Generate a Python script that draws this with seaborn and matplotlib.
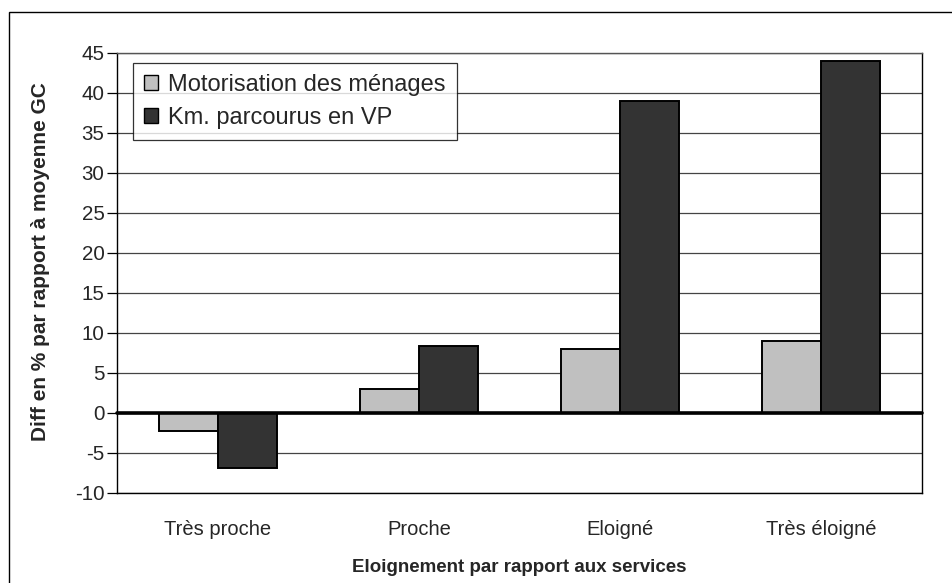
import matplotlib
matplotlib.use("Agg")
import matplotlib.pyplot as plt
import seaborn as sns
import pandas as pd
from matplotlib.patches import Rectangle

# Data
categories = ["Très proche", "Proche", "Eloigné", "Très éloigné"]
motorisation = [-2.3, 3.0, 8.0, 9.0]
km_parcourus = [-6.9, 8.3, 39.0, 44.0]
series_names = ["Motorisation des ménages", "Km. parcourus en VP"]
y_ticks = list(range(-10, 50, 5))

df = pd.DataFrame({
    "categorie": categories * 2,
    "serie": [series_names[0]] * 4 + [series_names[1]] * 4,
    "valeur": motorisation + km_parcourus,
})

sns.set_style("white")
plt.rcParams["font.family"] = ["Liberation Sans", "DejaVu Sans"]
plt.rcParams["axes.unicode_minus"] = False

W, H = 953, 583
x0, x1, y_top, y_bot = 117, 922, 53, 492.5

fig = plt.figure(figsize=(W / 100, H / 100), dpi=100)
ax = fig.add_axes([x0 / W, 1 - y_bot / H, (x1 - x0) / W, (y_bot - y_top) / H])

# Outer chart-area frame
fig.patches.append(Rectangle((9 / W, -0.1), 1.2, 1 - 12 / H + 0.1,
                             transform=fig.transFigure, fill=False,
                             edgecolor="black", linewidth=1.0, zorder=0))

sns.barplot(data=df, x="categorie", y="valeur", hue="serie",
            order=categories, hue_order=series_names,
            palette=["#c0c0c0", "#333333"], width=0.586,
            edgecolor="black", linewidth=1.4, saturation=1,
            ax=ax, zorder=3)

ax.set_ylim(-10, 45)
ax.set_yticks(y_ticks)
ax.set_xlim(-0.5, 3.5)
ax.yaxis.grid(True, color="#444444", linewidth=0.9, zorder=0)
ax.set_axisbelow(True)
ax.axhline(0, color="black", linewidth=2.6, zorder=4, clip_on=False)

for side in ["left", "right", "bottom", "top"]:
    ax.spines[side].set_visible(True)
    ax.spines[side].set_color("black")
    ax.spines[side].set_linewidth(1.0)
ax.spines["top"].set_color("#555555")

ax.tick_params(axis="y", which="both", left=True, length=7, width=0.9,
               direction="out", labelsize=14.8, pad=2, color="black")
ax.tick_params(axis="x", bottom=False, labelsize=14.5, pad=16)

ax.set_xlabel("Eloignement par rapport aux services", fontsize=13.5,
              fontweight="bold", labelpad=15)
ax.set_ylabel("Diff en % par rapport à moyenne GC", fontsize=15,
              fontweight="bold")
ax.yaxis.set_label_coords((50 - x0) / (x1 - x0), (y_bot - 262) / (y_bot - y_top))

leg = ax.legend(loc="upper left", bbox_to_anchor=(16 / (x1 - x0), (y_bot - 63) / (y_bot - y_top)),
                borderaxespad=0, frameon=True, fancybox=False, shadow=False,
                fontsize=17, handlelength=0.6, handleheight=0.6,
                handletextpad=0.45, labelspacing=0.48, borderpad=0.45,
                title=None)
leg.get_frame().set_edgecolor("black")
leg.get_frame().set_linewidth(0.9)
for h in leg.legend_handles:
    h.set_edgecolor("black")
    h.set_linewidth(1.0)

fig.savefig("out.png", dpi=100, facecolor="white")
